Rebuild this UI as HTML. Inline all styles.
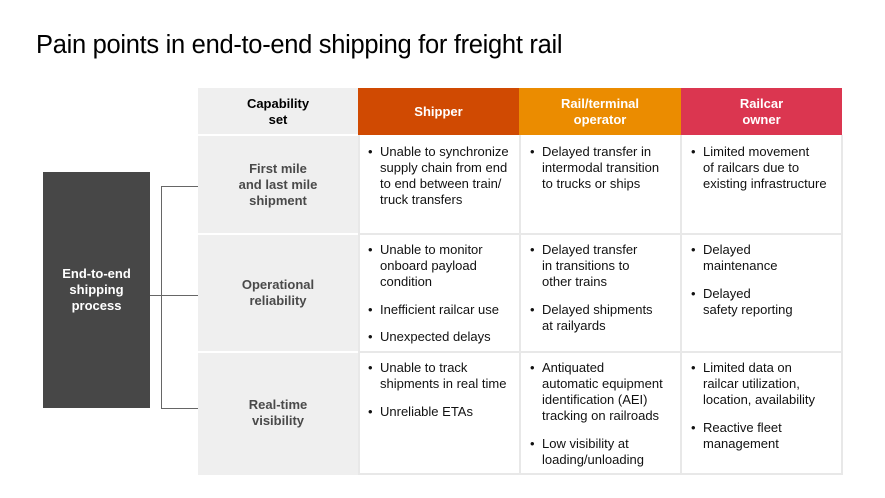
<!DOCTYPE html>
<html><head><meta charset="utf-8"><style>
body{margin:0;width:885px;height:498px;background:#fff;font-family:"Liberation Sans",Arial,sans-serif;position:relative;overflow:hidden}
h1{position:absolute;left:36px;top:31px;margin:0;font-size:25.5px;font-weight:normal;color:#000;letter-spacing:-0.3px}
.c{position:absolute;box-sizing:border-box}
.g{background:#efefef}
.hd{color:#fff;font-weight:bold;font-size:13px;text-align:center;display:flex;align-items:center;justify-content:center;line-height:16px}
.cap{font-weight:bold;font-size:13px;color:#4a4a4a;text-align:center;line-height:16px;display:flex;align-items:center;justify-content:center}
ul{margin:0;padding:0;list-style:none;font-size:13px;line-height:16px;color:#111}
li{position:absolute;padding-left:12px;white-space:nowrap}
li:before{content:"•";position:absolute;left:0}
.ln{position:absolute;background:#666}
</style></head><body>
<h1>Pain points in end-to-end shipping for freight rail</h1>
<div class="c g" style="left:198px;top:88px;width:160px;height:387px"></div>
<div class="c cap" style="left:198px;top:88px;width:160px;height:47px;color:#000">Capability<br>set</div>
<div class="c" style="left:198px;top:134px;width:160px;height:2px;background:#fff"></div>
<div class="c" style="left:198px;top:233px;width:160px;height:2px;background:#fff"></div>
<div class="c" style="left:198px;top:351px;width:160px;height:2px;background:#fff"></div>
<div class="c hd" style="left:358px;top:88px;width:161px;height:47px;background:#d04a02">Shipper</div>
<div class="c hd" style="left:519px;top:88px;width:162px;height:47px;background:#eb8c00">Rail/terminal<br>operator</div>
<div class="c hd" style="left:681px;top:88px;width:161px;height:47px;background:#db3650">Railcar<br>owner</div>
<div class="c cap" style="left:198px;top:135px;width:160px;height:99px">First mile<br>and last mile<br>shipment</div>
<div class="c cap" style="left:198px;top:234px;width:160px;height:118px">Operational<br>reliability</div>
<div class="c cap" style="left:198px;top:352px;width:160px;height:122px">Real-time<br>visibility</div>
<div class="c" style="left:358px;top:135px;width:2px;height:340px;background:#e8e8e8"></div>
<div class="c" style="left:519px;top:135px;width:2px;height:340px;background:#e8e8e8"></div>
<div class="c" style="left:680px;top:135px;width:2px;height:340px;background:#e8e8e8"></div>
<div class="c" style="left:841px;top:135px;width:2px;height:340px;background:#e8e8e8"></div>
<div class="c" style="left:358px;top:233px;width:485px;height:2px;background:#e8e8e8"></div>
<div class="c" style="left:358px;top:351px;width:485px;height:2px;background:#e8e8e8"></div>
<div class="c" style="left:358px;top:473px;width:485px;height:2px;background:#e8e8e8"></div>
<ul>
<li style="left:368px;top:144px">Unable to synchronize<br>supply chain from end<br>to end between train/<br>truck transfers</li>
<li style="left:530px;top:144px">Delayed transfer in<br>intermodal transition<br>to trucks or ships</li>
<li style="left:691px;top:144px">Limited movement<br>of railcars due to<br>existing infrastructure</li>
<li style="left:368px;top:242px">Unable to monitor<br>onboard payload<br>condition</li>
<li style="left:368px;top:302px">Inefficient railcar use</li>
<li style="left:368px;top:329px">Unexpected delays</li>
<li style="left:530px;top:242px">Delayed transfer<br>in transitions to<br>other trains</li>
<li style="left:530px;top:302px">Delayed shipments<br>at railyards</li>
<li style="left:691px;top:242px">Delayed<br>maintenance</li>
<li style="left:691px;top:286px">Delayed<br>safety reporting</li>
<li style="left:368px;top:360px">Unable to track<br>shipments in real time</li>
<li style="left:368px;top:404px">Unreliable ETAs</li>
<li style="left:530px;top:360px">Antiquated<br>automatic equipment<br>identification (AEI)<br>tracking on railroads</li>
<li style="left:530px;top:436px">Low visibility at<br>loading/unloading</li>
<li style="left:691px;top:360px">Limited data on<br>railcar utilization,<br>location, availability</li>
<li style="left:691px;top:420px">Reactive fleet<br>management</li>
</ul>
<div class="c" style="left:43px;top:172px;width:107px;height:236px;background:#474747;color:#fff;font-weight:bold;font-size:13px;line-height:16px;text-align:center;display:flex;align-items:center;justify-content:center">End-to-end<br>shipping<br>process</div>
<div class="ln" style="left:150px;top:295px;width:48px;height:1px"></div>
<div class="ln" style="left:161px;top:186px;width:1px;height:223px"></div>
<div class="ln" style="left:161px;top:186px;width:37px;height:1px"></div>
<div class="ln" style="left:161px;top:408px;width:37px;height:1px"></div>
</body></html>
